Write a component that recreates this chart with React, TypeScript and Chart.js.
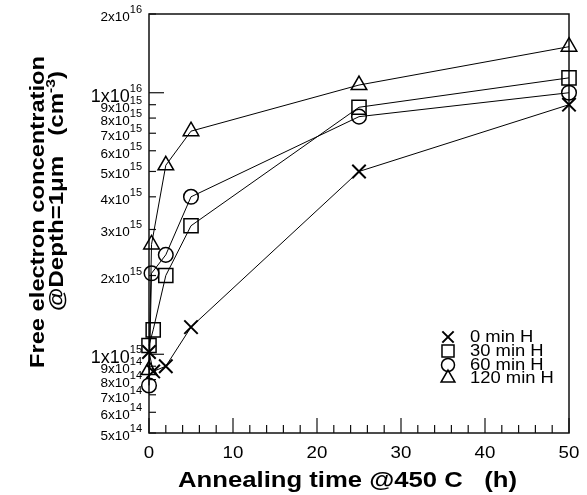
import React, { useEffect, useRef } from 'react';
import { Chart, registerables } from 'chart.js';

Chart.register(...registerables);

const seriesLabels = ['0 min H', '30 min H', '60 min H', '120 min H'];
const pointStyles = ['crossRot', 'rect', 'circle', 'triangle'];
const timesA = [0, 0.5, 2, 5, 25, 50];
const timesB = [0, 0.3, 2, 5, 25, 50];
const conc0 = [1.02e15, 0.86e15, 0.9e15, 1.27e15, 5.0e15, 9.0e15];
const conc30 = [1.08e15, 1.24e15, 2.0e15, 3.1e15, 8.8e15, 1.14e16];
const conc60 = [0.76e15, 2.04e15, 2.4e15, 4.0e15, 8.1e15, 1.0e16];
const conc120 = [0.87e15, 2.63e15, 5.28e15, 7.13e15, 1.07e16, 1.5e16];

const xMin = 0;
const xMax = 50;
const xMajorTicks = [0, 10, 20, 30, 40, 50];
const xMinorStep = 2;
const yMin = 5e14;
const yMax = 2e16;
const yTickValues = [5e14, 6e14, 7e14, 8e14, 9e14, 1e15, 2e15, 3e15, 4e15, 5e15, 6e15, 7e15, 8e15, 9e15, 1e16, 2e16];

const xTitle = 'Annealing time @450 C   (h)';
const yTitle1 = 'Free electron concentration';
const yTitle2a = '@Depth=1\u03bcm   (cm';
const yTitle2sup = '-3';
const yTitle2b = ')';

const FONT = '"Liberation Sans", Arial, Helvetica, sans-serif';

function drawMarker(ctx: CanvasRenderingContext2D, style: string, x: number, y: number, r: number) {
  ctx.beginPath();
  if (style === 'crossRot') {
    const o = r * Math.SQRT1_2;
    ctx.moveTo(x - o, y - o);
    ctx.lineTo(x + o, y + o);
    ctx.moveTo(x - o, y + o);
    ctx.lineTo(x + o, y - o);
  } else if (style === 'rect') {
    const s = r * Math.SQRT1_2;
    ctx.rect(x - s, y - s, 2 * s, 2 * s);
  } else if (style === 'circle') {
    ctx.arc(x, y, r, 0, Math.PI * 2);
  } else if (style === 'triangle') {
    ctx.moveTo(x, y - r);
    ctx.lineTo(x + r * 0.866, y + r * 0.5);
    ctx.lineTo(x - r * 0.866, y + r * 0.5);
    ctx.closePath();
  }
  ctx.stroke();
}

const axesPlugin = {
  id: 'customAxes',
  beforeDatasetsDraw(chart: any) {
    const { ctx, chartArea } = chart;
    const { left, right, top, bottom } = chartArea;
    const xs = chart.scales.x;
    const ys = chart.scales.y;
    ctx.save();
    ctx.strokeStyle = '#111';
    ctx.lineWidth = 1.5;
    ctx.strokeRect(left, top, right - left, bottom - top);
    ctx.lineWidth = 1.2;
    for (let v = xMin; v <= xMax + 1e-9; v += xMinorStep) {
      const px = xs.getPixelForValue(v);
      const major = xMajorTicks.includes(v);
      ctx.beginPath();
      ctx.moveTo(px, bottom);
      ctx.lineTo(px, bottom - (major ? 15 : 8));
      ctx.stroke();
    }
    yTickValues.forEach((v) => {
      const py = ys.getPixelForValue(v);
      const e = Math.floor(Math.log10(v) + 1e-9);
      const m = Math.round(v / Math.pow(10, e));
      const major = m === 1;
      ctx.beginPath();
      ctx.moveTo(left, py);
      ctx.lineTo(left + (major ? 15 : 7), py);
      ctx.stroke();
    });
    ctx.restore();
  },
  afterDraw(chart: any) {
    const { ctx, chartArea } = chart;
    const { left } = chartArea;
    const xs = chart.scales.x;
    const ys = chart.scales.y;
    ctx.save();
    ctx.fillStyle = '#000';
    // x tick labels
    ctx.font = `17px ${FONT}`;
    ctx.textAlign = 'center';
    ctx.textBaseline = 'alphabetic';
    xMajorTicks.forEach((v) => {
      ctx.save();
      ctx.translate(xs.getPixelForValue(v), 458);
      ctx.scale(1.1, 1);
      ctx.fillText(String(v), 0, 0);
      ctx.restore();
    });
    // y tick labels
    const rightEdge = left - 7;
    yTickValues.forEach((v) => {
      const py = ys.getPixelForValue(v);
      const e = Math.floor(Math.log10(v) + 1e-9);
      const m = Math.round(v / Math.pow(10, e));
      const big = m === 1 && v < yMax;
      const baseFont = big ? `18px ${FONT}` : `13.5px ${FONT}`;
      const supFont = `11px ${FONT}`;
      ctx.font = supFont;
      const supText = String(e);
      const ws = ctx.measureText(supText).width;
      ctx.font = baseFont;
      const baseText = `${m}x10`;
      const wb = ctx.measureText(baseText).width;
      ctx.textAlign = 'left';
      ctx.textBaseline = 'alphabetic';
      ctx.fillText(baseText, rightEdge - ws - wb, py + (big ? 9 : 7));
      ctx.font = supFont;
      ctx.fillText(supText, rightEdge - ws, py - 1);
    });
    // x title
    ctx.font = `bold 22px ${FONT}`;
    const wt = ctx.measureText(xTitle).width;
    const targetW = 339;
    ctx.save();
    ctx.translate(347.5, 487);
    ctx.scale(targetW / wt, 1);
    ctx.textAlign = 'center';
    ctx.fillText(xTitle, 0, 0);
    ctx.restore();
    // y title line 1
    ctx.save();
    ctx.font = `bold 20px ${FONT}`;
    const w1 = ctx.measureText(yTitle1).width;
    ctx.translate(44, 212);
    ctx.rotate(-Math.PI / 2);
    ctx.scale(312 / w1, 1);
    ctx.textAlign = 'center';
    ctx.textBaseline = 'alphabetic';
    ctx.fillText(yTitle1, 0, 0);
    ctx.restore();
    // y title line 2
    ctx.save();
    ctx.font = `bold 20px ${FONT}`;
    const wa = ctx.measureText(yTitle2a).width;
    const wbb = ctx.measureText(yTitle2b).width;
    ctx.font = `bold 13px ${FONT}`;
    const wsup = ctx.measureText(yTitle2sup).width;
    const total = wa + wsup + wbb;
    ctx.translate(63, 191);
    ctx.rotate(-Math.PI / 2);
    ctx.scale(240 / total, 1);
    ctx.textAlign = 'left';
    ctx.textBaseline = 'alphabetic';
    let cx = -total / 2;
    ctx.font = `bold 20px ${FONT}`;
    ctx.fillText(yTitle2a, cx, 0);
    cx += wa;
    ctx.font = `bold 13px ${FONT}`;
    ctx.fillText(yTitle2sup, cx, -8);
    cx += wsup;
    ctx.font = `bold 20px ${FONT}`;
    ctx.fillText(yTitle2b, cx, 0);
    ctx.restore();
    // legend
    const legendRows = [337, 351, 365, 378];
    const legendR = [8, 8.5, 6.5, 8];
    const legendW = [2, 1.5, 1.5, 1.5];
    chart.data.datasets.forEach((ds: any, i: number) => {
      ctx.strokeStyle = '#000';
      ctx.lineWidth = legendW[i];
      drawMarker(ctx, pointStyles[i], 448, legendRows[i], legendR[i]);
      ctx.save();
      ctx.font = `16px ${FONT}`;
      ctx.textAlign = 'left';
      ctx.textBaseline = 'middle';
      ctx.fillStyle = '#000';
      ctx.translate(470, legendRows[i] + 1);
      ctx.scale(1.15, 1);
      ctx.fillText(ds.label, 0, 0);
      ctx.restore();
    });
    ctx.restore();
  },
};

export default function App() {
  const ref = useRef<HTMLCanvasElement | null>(null);
  useEffect(() => {
    document.body.style.margin = '0';
    const canvas = ref.current;
    if (!canvas) return;
    const mk = (i: number, times: number[], vals: number[], r: number, bw: number) => ({
      label: seriesLabels[i],
      data: times.map((t, k) => ({ x: t, y: vals[k] })),
      borderColor: '#000',
      backgroundColor: 'rgba(0,0,0,0)',
      borderWidth: 1,
      pointStyle: pointStyles[i],
      pointRadius: r,
      pointBorderWidth: bw,
      pointBorderColor: '#000',
      pointBackgroundColor: 'rgba(0,0,0,0)',
      showLine: true,
      clip: false,
      tension: 0,
    });
    const chart = new Chart(canvas, {
      type: 'scatter',
      data: {
        datasets: [
          mk(0, timesA, conc0, 9.5, 2),
          mk(1, timesA, conc30, 10, 1.5),
          mk(2, timesB, conc60, 7.3, 1.5),
          mk(3, timesB, conc120, 9, 1.5),
        ],
      },
      options: {
        responsive: false,
        animation: false,
        layout: { padding: { left: 149, right: 18, top: 14, bottom: 62 } },
        plugins: { legend: { display: false }, tooltip: { enabled: false } },
        scales: {
          x: { type: 'linear', min: xMin, max: xMax, display: false },
          y: { type: 'logarithmic', min: yMin, max: yMax, display: false },
        },
      },
      plugins: [axesPlugin],
    });
    return () => chart.destroy();
  }, []);
  return (
    <div style={{ width: 587, height: 495, background: '#fff' }}>
      <canvas ref={ref} width={587} height={495} style={{ display: 'block' }} />
    </div>
  );
}
